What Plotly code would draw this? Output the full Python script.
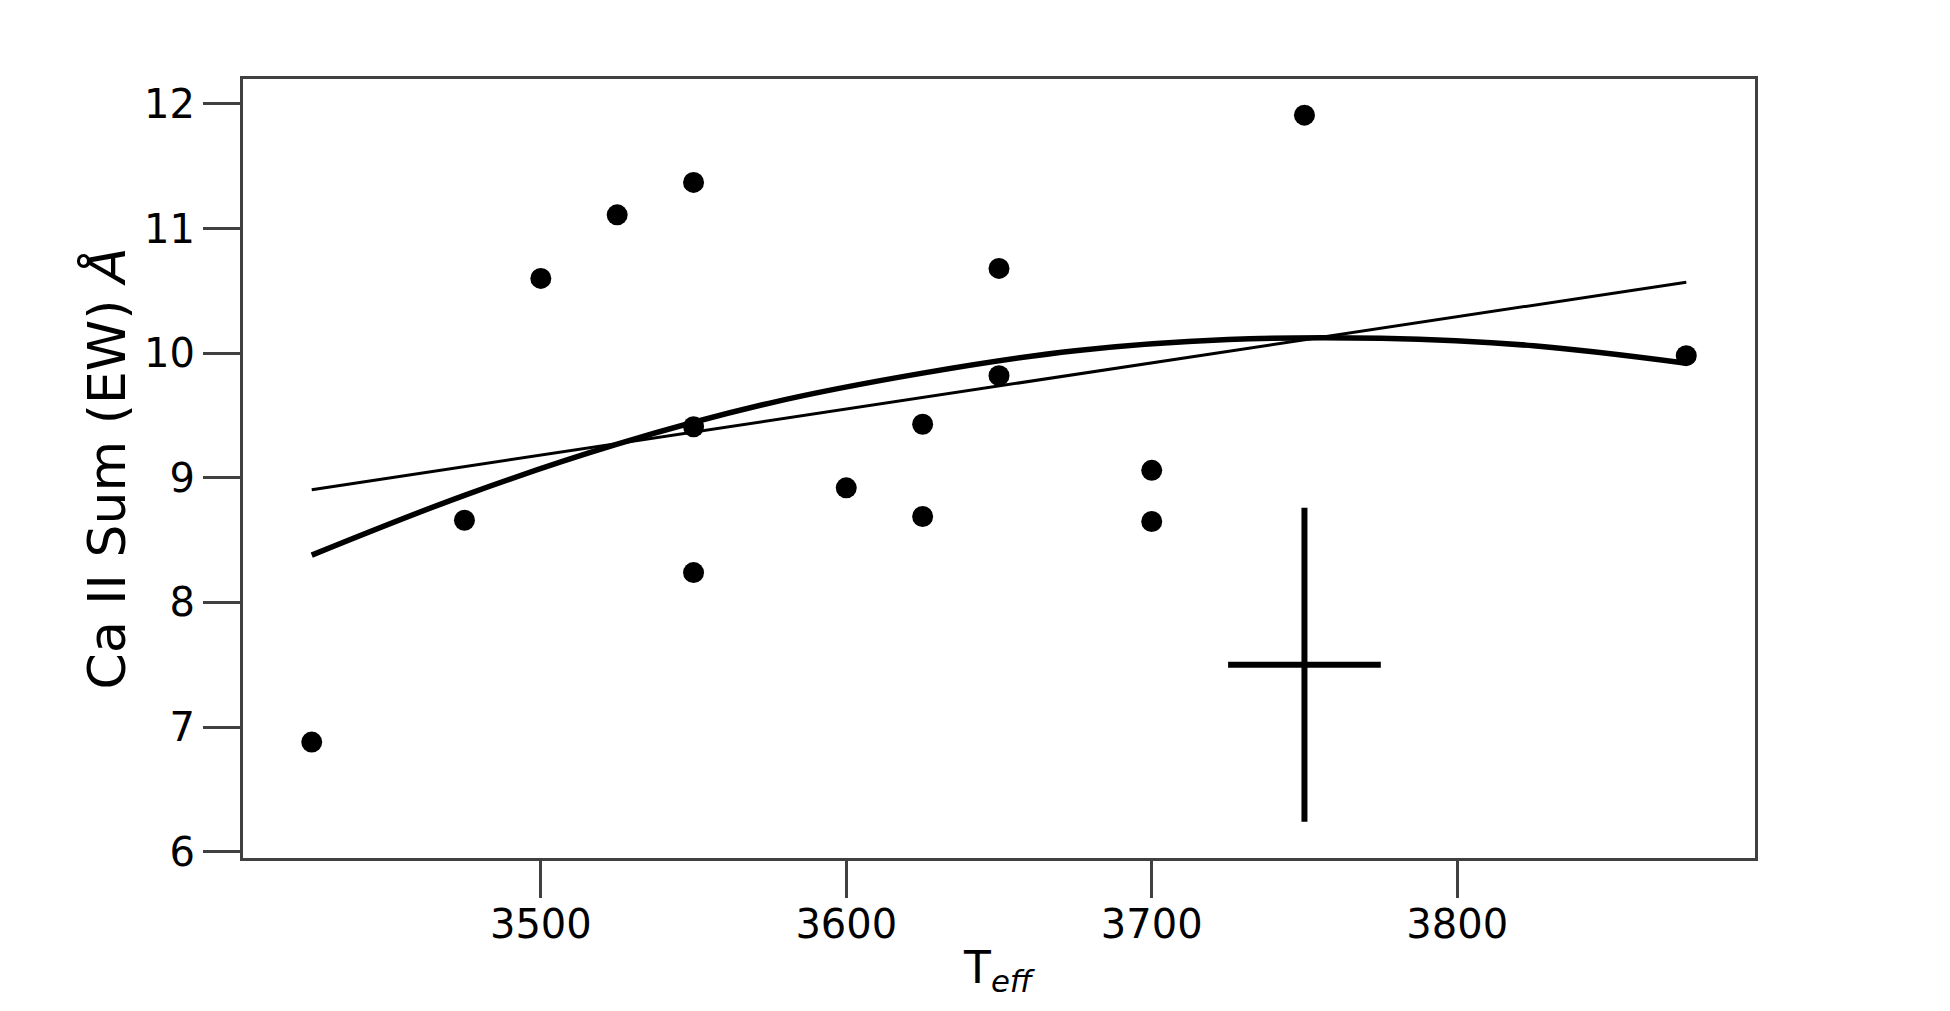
import plotly.graph_objects as go

# Data points (T_eff, Ca II sum EW)
teff = [3425, 3475, 3500, 3525, 3550, 3550, 3550, 3600, 3625, 3625,
        3650, 3650, 3700, 3700, 3750, 3875]
ew = [6.88, 8.66, 10.60, 11.11, 11.37, 9.41, 8.24, 8.92, 9.43, 8.69,
      10.68, 9.82, 9.06, 8.65, 11.91, 9.98]

# Linear fit line
lin_x = [3425, 3875]
lin_y = [8.905, 10.57]

# Quadratic fit curve
quad_x = [3425, 3475, 3525, 3575, 3625, 3675, 3725, 3775, 3825, 3875]
quad_y = [8.38, 8.86, 9.27, 9.60, 9.84, 10.02, 10.11, 10.12, 10.06, 9.92]

# Representative error cross
err_x = [3750]
err_y = [7.5]
err_dx = [25]
err_dy = [1.26]

x_ticks = [3500, 3600, 3700, 3800]
y_ticks = [6, 7, 8, 9, 10, 11, 12]

FONT = "DejaVu Sans"

fig = go.Figure()
fig.add_trace(go.Scatter(x=lin_x, y=lin_y, mode="lines",
                         line=dict(color="black", width=3), showlegend=False))
fig.add_trace(go.Scatter(x=quad_x, y=quad_y, mode="lines",
                         line=dict(color="black", width=5.5, shape="spline"),
                         showlegend=False))
fig.add_trace(go.Scatter(x=err_x, y=err_y, mode="markers",
                         marker=dict(size=1, color="rgba(0,0,0,0)"),
                         error_x=dict(type="data", array=err_dx, color="black",
                                      thickness=6, width=0),
                         error_y=dict(type="data", array=err_dy, color="black",
                                      thickness=6, width=0),
                         showlegend=False))
fig.add_trace(go.Scatter(x=teff, y=ew, mode="markers",
                         marker=dict(size=21, color="black"), showlegend=False))

axis_common = dict(
    showgrid=False, zeroline=False, showline=True, mirror=True,
    linecolor="#404040", linewidth=3,
    ticks="outside", ticklen=37, tickwidth=3, tickcolor="#404040",
    tickfont=dict(family=FONT, size=40, color="black"),
)

fig.update_layout(
    width=1950, height=1011,
    margin=dict(l=243, r=195, t=79, b=153),
    paper_bgcolor="white", plot_bgcolor="white",
    xaxis=dict(range=[3402.5, 3897.5], tickvals=x_ticks,
               ticktext=[str(v) for v in x_ticks], **axis_common),
    yaxis=dict(range=[5.95, 12.2], tickvals=y_ticks,
               ticktext=[str(v) for v in y_ticks], **axis_common),
    annotations=[
        dict(text="Ca II Sum (EW) <i>Å</i>", xref="paper", yref="paper",
             x=-0.09, y=0.5, xanchor="center", yanchor="middle",
             textangle=-90, showarrow=False,
             font=dict(family=FONT, size=52, color="black")),
        dict(text="T<sub><i>eff</i></sub>", xref="paper", yref="paper",
             x=0.5, y=-0.105, xanchor="center", yanchor="top",
             showarrow=False,
             font=dict(family=FONT, size=44, color="black")),
    ],
)

try:
    fig.update_xaxes(ticklabelstandoff=-8)
except Exception:
    pass

fig.write_html("out.html")
